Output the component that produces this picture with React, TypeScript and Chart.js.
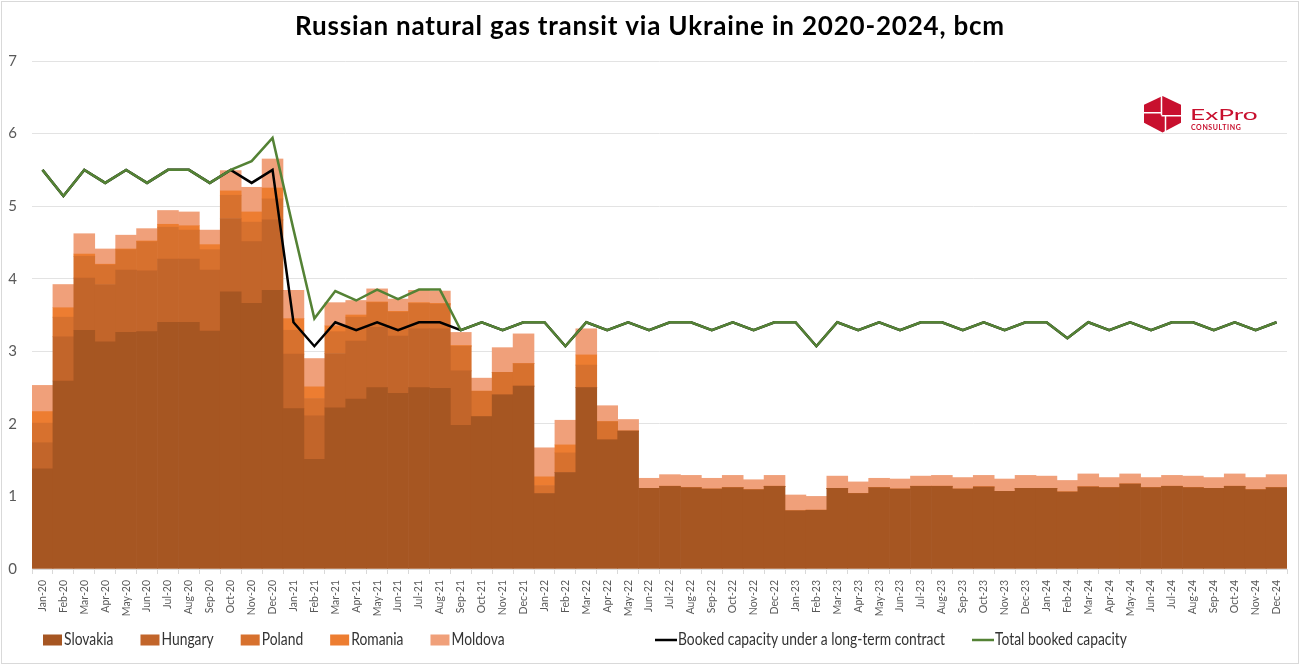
import React, { useEffect, useRef } from "react";
import { Chart, registerables } from "chart.js";

Chart.register(...registerables);

// Month labels Jan-20 … Dec-24
const MONTHS = ["Jan", "Feb", "Mar", "Apr", "May", "Jun", "Jul", "Aug", "Sep", "Oct", "Nov", "Dec"];
const YEARS = ["20", "21", "22", "23", "24"];
const categories = YEARS.flatMap((y) => MONTHS.map((m) => `${m}-${y}`));

// Monthly transit by destination, bcm
const slovakia = [
  1.38, 2.59, 3.29, 3.13, 3.26, 3.27, 3.40, 3.40, 3.28, 3.82, 3.66, 3.84,
  2.21, 1.51, 2.22, 2.34, 2.50, 2.42, 2.50, 2.49, 1.98, 2.10, 2.40, 2.52,
  1.04, 1.33, 2.50, 1.78, 1.90, 1.11, 1.14, 1.12, 1.10, 1.12, 1.09, 1.14,
  0.80, 0.81, 1.11, 1.04, 1.12, 1.10, 1.14, 1.14, 1.10, 1.13, 1.07, 1.11,
  1.11, 1.06, 1.13, 1.12, 1.17, 1.12, 1.14, 1.12, 1.11, 1.14, 1.09, 1.12,
];
const hungary = [
  0.36, 0.61, 0.72, 0.79, 0.86, 0.84, 0.87, 0.87, 0.84, 1.01, 0.85, 0.97,
  0.75, 0.60, 0.75, 0.80, 0.83, 0.79, 0.81, 0.82, 0.75, 0, 0, 0,
  0, 0, 0, 0, 0, 0, 0, 0, 0, 0, 0, 0,
  0, 0, 0, 0, 0, 0, 0, 0, 0, 0, 0, 0,
  0, 0, 0, 0, 0, 0, 0, 0, 0, 0, 0, 0,
];
const poland = [
  0.27, 0.27, 0.30, 0.27, 0.28, 0.40, 0.44, 0.40, 0.28, 0.32, 0.27, 0.29,
  0.33, 0.24, 0.30, 0.33, 0.34, 0.33, 0.35, 0.34, 0.34, 0.35, 0.31, 0.31,
  0.11, 0.27, 0.31, 0.25, 0, 0, 0, 0, 0, 0, 0, 0,
  0, 0, 0, 0, 0, 0, 0, 0, 0, 0, 0, 0,
  0, 0, 0, 0, 0, 0, 0, 0, 0, 0, 0, 0,
];
const romania = [
  0.16, 0.13, 0.03, 0.01, 0.01, 0.01, 0.04, 0.06, 0.07, 0.06, 0.14, 0.15,
  0.16, 0.16, 0.08, 0.03, 0.01, 0.01, 0.01, 0.01, 0.01, 0, 0, 0,
  0.12, 0.11, 0.14, 0, 0, 0, 0, 0, 0, 0, 0, 0,
  0, 0, 0, 0, 0, 0, 0, 0, 0, 0, 0, 0,
  0, 0, 0, 0, 0, 0, 0, 0, 0, 0, 0, 0,
];
const moldova = [
  0.36, 0.32, 0.28, 0.21, 0.19, 0.17, 0.19, 0.19, 0.20, 0.28, 0.34, 0.40,
  0.39, 0.39, 0.32, 0.20, 0.18, 0.17, 0.17, 0.17, 0.18, 0.18, 0.34, 0.41,
  0.40, 0.34, 0.36, 0.22, 0.16, 0.14, 0.16, 0.17, 0.15, 0.17, 0.14, 0.15,
  0.22, 0.19, 0.17, 0.16, 0.13, 0.14, 0.14, 0.15, 0.16, 0.16, 0.17, 0.18,
  0.17, 0.16, 0.18, 0.14, 0.14, 0.14, 0.15, 0.16, 0.15, 0.17, 0.17, 0.18,
];

// Booked transit capacity, bcm per month
const longTermCapacity = [
  5.50, 5.14, 5.50, 5.32, 5.50, 5.32, 5.50, 5.50, 5.32, 5.50, 5.32, 5.50,
  3.40, 3.07, 3.40, 3.29, 3.40, 3.29, 3.40, 3.40, 3.29, 3.40, 3.29, 3.40,
  3.40, 3.07, 3.40, 3.29, 3.40, 3.29, 3.40, 3.40, 3.29, 3.40, 3.29, 3.40,
  3.40, 3.07, 3.40, 3.29, 3.40, 3.29, 3.40, 3.40, 3.29, 3.40, 3.29, 3.40,
  3.40, 3.18, 3.40, 3.29, 3.40, 3.29, 3.40, 3.40, 3.29, 3.40, 3.29, 3.40,
];
const totalCapacity = [
  5.50, 5.14, 5.50, 5.32, 5.50, 5.32, 5.50, 5.50, 5.32, 5.50, 5.62, 5.94,
  4.68, 3.45, 3.83, 3.70, 3.85, 3.72, 3.85, 3.85, 3.29, 3.40, 3.29, 3.40,
  3.40, 3.07, 3.40, 3.29, 3.40, 3.29, 3.40, 3.40, 3.29, 3.40, 3.29, 3.40,
  3.40, 3.07, 3.40, 3.29, 3.40, 3.29, 3.40, 3.40, 3.29, 3.40, 3.29, 3.40,
  3.40, 3.18, 3.40, 3.29, 3.40, 3.29, 3.40, 3.40, 3.29, 3.40, 3.29, 3.40,
];

const TITLE = "Russian natural gas transit via Ukraine in 2020-2024, bcm";
const FONT = "Lato, 'Open Sans', sans-serif";

const barSeries = [
  { label: "Slovakia", data: slovakia, color: "#A65622" },
  { label: "Hungary", data: hungary, color: "#C2652A" },
  { label: "Poland", data: poland, color: "#D7712E" },
  { label: "Romania", data: romania, color: "#ED7D31" },
  { label: "Moldova", data: moldova, color: "#F0A07A" },
];

// Legend text is set slightly condensed
const LEGEND_STRETCH = 0.84;

// Frame, title, legend row and company logo
const decorations = {
  id: "decorations",
  beforeDraw(chart: any) {
    const { ctx, width, height } = chart;
    ctx.save();
    ctx.fillStyle = "#FFFFFF";
    ctx.fillRect(0, 0, width, height);
    ctx.strokeStyle = "#D9D9D9";
    ctx.lineWidth = 1;
    ctx.strokeRect(1.5, 1.5, width - 3, height - 3);
    ctx.restore();
  },
  afterDraw(chart: any) {
    const { ctx, width } = chart;
    ctx.save();

    // title
    ctx.fillStyle = "#000000";
    ctx.font = `bold 26px ${FONT}`;
    (ctx as any).letterSpacing = "0.8px";
    ctx.textAlign = "center";
    ctx.textBaseline = "alphabetic";
    ctx.fillText(TITLE, width / 2, 35);
    (ctx as any).letterSpacing = "0px";

    // legend
    const legendY = 640;
    ctx.font = `16.5px ${FONT}`;
    ctx.textAlign = "left";
    ctx.textBaseline = "middle";
    const datasets = chart.data.datasets;
    let x = 43;
    datasets.forEach((ds: any, i: number) => {
      if (ds.type === "line" && datasets[i - 1]?.type !== "line") x = 655;
      if (ds.type === "line") {
        ctx.strokeStyle = ds.borderColor;
        ctx.lineWidth = 2.5;
        ctx.beginPath();
        ctx.moveTo(x, legendY);
        ctx.lineTo(x + 22, legendY);
        ctx.stroke();
        x += 23;
      } else {
        ctx.fillStyle = ds.backgroundColor;
        ctx.fillRect(x, legendY - 5.5, 19, 11);
        x += 21;
      }
      ctx.fillStyle = "#333333";
      ctx.save();
      ctx.translate(x, legendY);
      ctx.scale(LEGEND_STRETCH, 1);
      ctx.fillText(ds.label, 0, 0);
      ctx.restore();
      x += ctx.measureText(ds.label).width * LEGEND_STRETCH + 27;
    });

    // logo
    const cx = 1162.5;
    const cy = 114.3;
    ctx.fillStyle = "#C8102E";
    ctx.beginPath();
    ctx.moveTo(cx, cy - 18.3);
    ctx.lineTo(cx + 18.5, cy - 9.5);
    ctx.lineTo(cx + 18.5, cy + 8.5);
    ctx.lineTo(cx, cy + 18.3);
    ctx.lineTo(cx - 18.5, cy + 8.5);
    ctx.lineTo(cx - 18.5, cy - 9.5);
    ctx.closePath();
    ctx.fill();
    ctx.strokeStyle = "#FFFFFF";
    ctx.lineWidth = 1.5;
    ctx.beginPath();
    ctx.moveTo(cx - 1, cy - 18.3);
    ctx.lineTo(cx - 1, cy + 1);
    ctx.moveTo(cx - 18.5, cy - 1.5);
    ctx.lineTo(cx - 1, cy - 1.5);
    ctx.moveTo(cx - 1, cy + 1.5);
    ctx.lineTo(cx + 18.5, cy + 1.5);
    ctx.moveTo(cx + 3, cy + 1.5);
    ctx.lineTo(cx + 3, cy + 18.3);
    ctx.stroke();

    ctx.fillStyle = "#C8102E";
    ctx.textBaseline = "alphabetic";
    ctx.save();
    ctx.translate(1190, 119.5);
    ctx.scale(1.75, 1);
    ctx.font = `15px ${FONT}`;
    ctx.fillText("ExPro", 0, 0);
    ctx.restore();
    ctx.font = `bold 7px ${FONT}`;
    (ctx as any).letterSpacing = "0.6px";
    ctx.fillText("CONSULTING", 1191, 129.5);
    ctx.restore();
  },
};

export default function App() {
  const canvasRef = useRef<HTMLCanvasElement>(null);

  useEffect(() => {
    document.body.style.margin = "0";
    const canvas = canvasRef.current;
    if (!canvas) return;

    const chart = new Chart(canvas, {
      type: "bar",
      data: {
        labels: categories,
        datasets: [
          ...barSeries.map((s) => ({
            type: "bar" as const,
            label: s.label,
            data: s.data,
            backgroundColor: s.color,
            borderWidth: 0,
            categoryPercentage: 1,
            barPercentage: 1,
            order: 2,
          })),
          {
            type: "line" as const,
            label: "Booked capacity under a long-term contract",
            data: longTermCapacity,
            borderColor: "#000000",
            backgroundColor: "#000000",
            borderWidth: 2.5,
            pointRadius: 0,
            tension: 0,
            order: 1,
            stack: "longTerm",
          },
          {
            type: "line" as const,
            label: "Total booked capacity",
            data: totalCapacity,
            borderColor: "#548235",
            backgroundColor: "#548235",
            borderWidth: 2.5,
            pointRadius: 0,
            tension: 0,
            order: 0,
            stack: "total",
          },
        ],
      },
      options: {
        responsive: false,
        animation: false,
        devicePixelRatio: 1,
        layout: { padding: { left: 0, right: 13, top: 61, bottom: 0 } },
        plugins: {
          legend: { display: false },
          title: { display: false },
          tooltip: { enabled: false },
        },
        scales: {
          x: {
            stacked: true,
            offset: true,
            grid: {
              display: true,
              drawOnChartArea: false,
              drawTicks: true,
              tickLength: 5,
              color: "#D9D9D9",
              offset: true,
            },
            border: { display: true, color: "#D9D9D9" },
            ticks: {
              autoSkip: false,
              minRotation: 90,
              maxRotation: 90,
              padding: 6,
              color: "#595959",
              font: { family: FONT, size: 10.5 },
            },
            afterFit: (scale: any) => {
              scale.height = 96;
            },
          },
          y: {
            stacked: true,
            min: 0,
            max: 7,
            ticks: {
              stepSize: 1,
              padding: 15,
              color: "#595959",
              font: { family: FONT, size: 15 },
            },
            grid: { color: "#E3E3E3", drawTicks: false },
            border: { display: false },
            afterFit: (scale: any) => {
              scale.width = 32;
            },
          },
        },
      },
      plugins: [decorations],
    } as any);

    return () => chart.destroy();
  }, []);

  return <canvas ref={canvasRef} width={1300} height={665} style={{ display: "block" }} />;
}
